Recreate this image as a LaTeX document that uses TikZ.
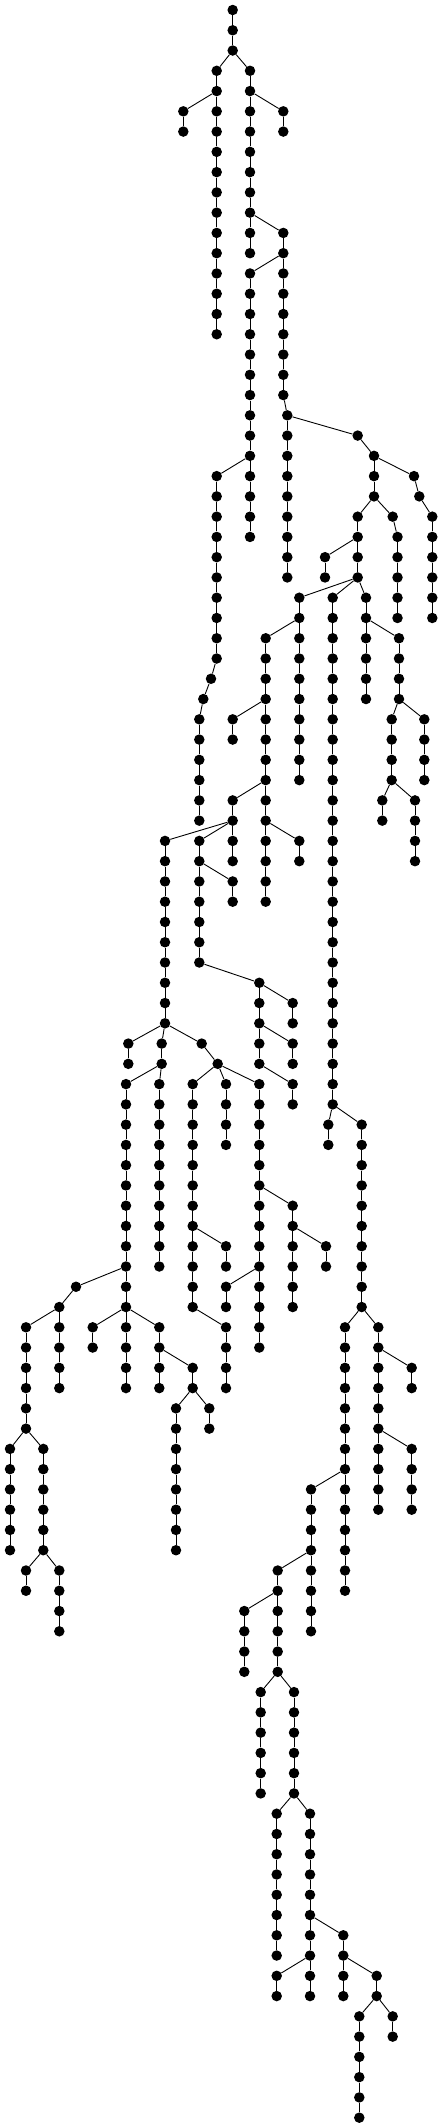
\documentclass[tikz,border=0pt]{standalone}
\begin{document}
\begin{tikzpicture}[x=1pt,y=-1pt,
  vertex/.style={circle,fill=black,draw=none,inner sep=0pt,minimum size=10.5pt},
  branch/.style={line width=0.9pt}]

\useasboundingbox (0,0) rectangle (443,2128);

\foreach \r [remember=\r as \p (initially 0)] in {0,1,2}{
  \node[vertex] (A\r) at (232.7,{10+20.266*\r}) {};
  \ifnum\r>0 \draw[branch] (A\p) -- (A\r); \fi
}

\foreach \nm/\x/\a/\b/\up in {
  B/216.7/3/16/A2, C/250/3/12/A2, D/183.3/5/6/B4, E/283.3/5/6/C4,
  F/283.3/11/19/C10, G/287.3/20/28/F19, H/250/13/26/F12, I/216.7/23/32/H22,
  J/211/33/33/I32, K/203.3/34/34/J33, L/199.3/35/40/K34, M/357.7/21/21/G20,
  N/374/22/24/M21, O/414/23/23/N22, P/419.3/24/24/O23, Q/432.3/25/30/P24,
  R/357.7/25/28/N24, S/325/27/28/R26, T/392.7/25/25/N24, U/397.5/26/30/T25,
  V/299.3/29/38/R28, W/332.7/29/54/R28, X/366/29/34/R28, Y/399/31/34/X30,
  Z/391.7/35/38/Y34, a/424.3/35/38/Y34, b/382.3/39/40/Z38, c/415/39/42/Z38,
  d/265.7/31/44/V30, e/232.7/35/36/d34, f/232.7/39/42/d38, g/299.3/41/42/d40,
  h/165/41/50/f40, i/199.3/41/47/f40, j/232.7/43/44/i42, k/259.3/48/52/i47,
  l/292.7/49/50/k48, m/292.7/51/52/k50, n/292.7/53/54/k52,
  o/128.3/51/52/h50, p/161.7/51/52/h50, q/201.7/51/51/h50, r/217.7/52/52/q51,
  s/126/53/68/p52, t/159.3/53/62/p52, u/192.7/53/64/r52, v/226/53/56/r52,
  w/259.3/53/66/r52, x/292.7/59/64/w58, y/326/61/62/x60, z/226/61/62/u60,
  AA/226/63/64/w62, AB/226/65/68/u64, AC/76/63/63/s62, AD/59.3/64/68/AC63,
  AE/26/65/70/AD64, AF/92.7/65/66/s64, AG/159.3/65/68/s64, AH/192.7/67/68/AG66,
  AI/176/69/76/AH68, AJ/209.3/69/70/AH68, AK/10/71/76/AE70, AL/43.3/71/76/AE70,
  AM/26/77/78/AL76, AN/59.3/77/80/AL76,
  AO/328.3/55/56/W54, AP/361.7/55/64/W54, AQ/345/65/78/AP64, AR/378.3/65/74/AP64,
  AS/411.7/67/68/AR66, AT/411.7/71/74/AR70, AU/311/73/80/AQ72, AV/277.7/77/82/AU76,
  AW/244.3/79/82/AV78, AX/260.7/83/88/AV82, AY/294/83/88/AV82,
  AZ/276.7/89/96/AY88, BA/310/89/98/AY88, BB/276.7/97/98/BA96, BC/343.3/95/98/BA94,
  BD/376.7/97/98/BC96, BE/359.3/99/104/BD98, BF/392.7/99/100/BD98}{
  \foreach \r [remember=\r as \p (initially \a)] in {\a,...,\b}{
    \node[vertex] (\nm\r) at (\x,{10+20.266*\r}) {};
    \ifnum\r>\a \draw[branch] (\nm\p) -- (\nm\r); \fi
  }
  \draw[branch] (\up) -- (\nm\a);
}

\end{tikzpicture}
\end{document}
